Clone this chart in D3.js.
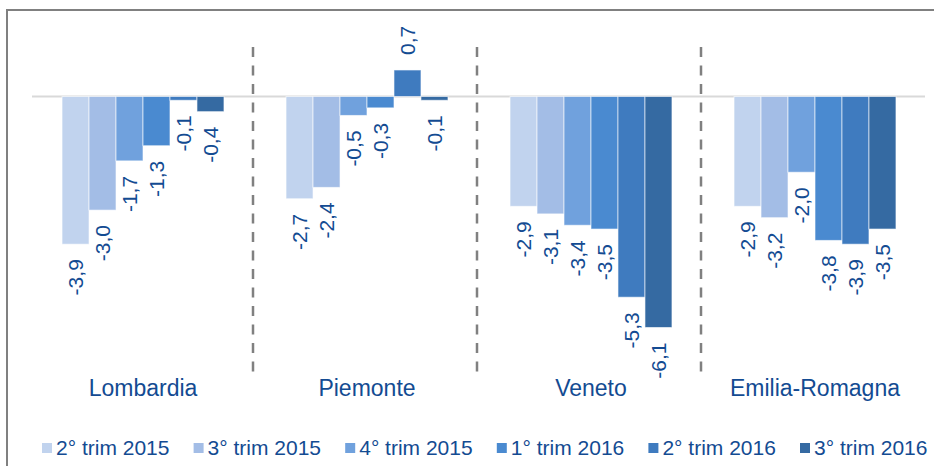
<!DOCTYPE html>
<html><head><meta charset="utf-8">
<script src="https://cdn.jsdelivr.net/npm/d3@7"></script>
<style>
html,body{margin:0;padding:0;background:#fff;}
svg{display:block;font-family:"Liberation Sans",Arial,sans-serif;}
</style></head>
<body>
<svg id="chart" width="934" height="466"></svg>
<script>
const regions = ["Lombardia", "Piemonte", "Veneto", "Emilia-Romagna"];
const series = ["2° trim 2015", "3° trim 2015", "4° trim 2015", "1° trim 2016", "2° trim 2016", "3° trim 2016"];
const lombardia = [-3.9, -3.0, -1.7, -1.3, -0.1, -0.4];
const piemonte = [-2.7, -2.4, -0.5, -0.3, 0.7, -0.1];
const veneto = [-2.9, -3.1, -3.4, -3.5, -5.3, -6.1];
const emilia = [-2.9, -3.2, -2.0, -3.8, -3.9, -3.5];
const colors = ["#c1d3ee", "#a3bde6", "#70a1dd", "#4a8ad0", "#3f7bbf", "#356aa2"];

const values = [lombardia, piemonte, veneto, emilia];
const data = [];
regions.forEach((r, i) => series.forEach((s, j) => data.push({region: r, series: s, value: values[i][j], idx: j})));

const svg = d3.select("#chart");
const textColor = "#134b92";

// outer border
svg.append("rect").attr("x", 7).attr("y", 10).attr("width", 960).attr("height", 500)
  .attr("fill", "none").attr("stroke", "#808080").attr("stroke-width", 2);

const x0 = d3.scaleBand().domain(regions).range([31, 927]);
const x1 = d3.scaleBand().domain(series).range([0, x0.bandwidth()]).paddingOuter(1.15);
const y = d3.scaleLinear().domain([0, -6.1]).range([96.5, 327.5]);

// separators
regions.slice(1).forEach(r => {
  svg.append("line").attr("x1", x0(r) - 2).attr("x2", x0(r) - 2)
    .attr("y1", 47).attr("y2", 380)
    .attr("stroke", "#808080").attr("stroke-width", 2.5).attr("stroke-dasharray", "10,8.5");
});

// zero line
svg.append("line").attr("x1", 32).attr("x2", 925).attr("y1", y(0)).attr("y2", y(0))
  .attr("stroke", "#d9d9d9").attr("stroke-width", 2);

const g = svg.append("g");
g.selectAll("rect.bar").data(data).join("rect").attr("class", "bar")
  .attr("x", d => x0(d.region) + x1(d.series))
  .attr("width", x1.bandwidth())
  .attr("y", d => Math.min(y(0), y(d.value)))
  .attr("height", d => Math.abs(y(d.value) - y(0)))
  .attr("fill", d => colors[d.idx])
  .attr("stroke", "rgba(255,255,255,0.6)").attr("stroke-width", 1);

const fmt = v => d3.format(".1f")(v).replace(".", ",").replace("−", "-");
g.selectAll("text.lbl").data(data).join("text").attr("class", "lbl")
  .attr("transform", d => {
    const cx = x0(d.region) + x1(d.series) + x1.bandwidth() / 2;
    const yy = d.value < 0 ? y(d.value) + 15 : y(d.value) - 15;
    return `translate(${cx},${yy}) rotate(-90)`;
  })
  .attr("text-anchor", d => d.value < 0 ? "end" : "start")
  .attr("dy", "0.36em")
  .attr("font-size", 21).attr("fill", textColor)
  .text(d => fmt(d.value));

// category labels
svg.selectAll("text.cat").data(regions).join("text").attr("class", "cat")
  .attr("x", d => x0(d) + x0.bandwidth() / 2).attr("y", 396)
  .attr("text-anchor", "middle").attr("font-size", 23).attr("fill", textColor)
  .text(d => d);

// legend
const lg = svg.selectAll("g.leg").data(series).join("g").attr("class", "leg")
  .attr("transform", (d, i) => `translate(${42 + i * 151.6},443)`);
lg.append("rect").attr("width", 10).attr("height", 10).attr("fill", (d, i) => colors[i]);
lg.append("text").attr("x", 14).attr("y", 12).attr("font-size", 21).attr("fill", textColor).text(d => d);
</script>
</body></html>
